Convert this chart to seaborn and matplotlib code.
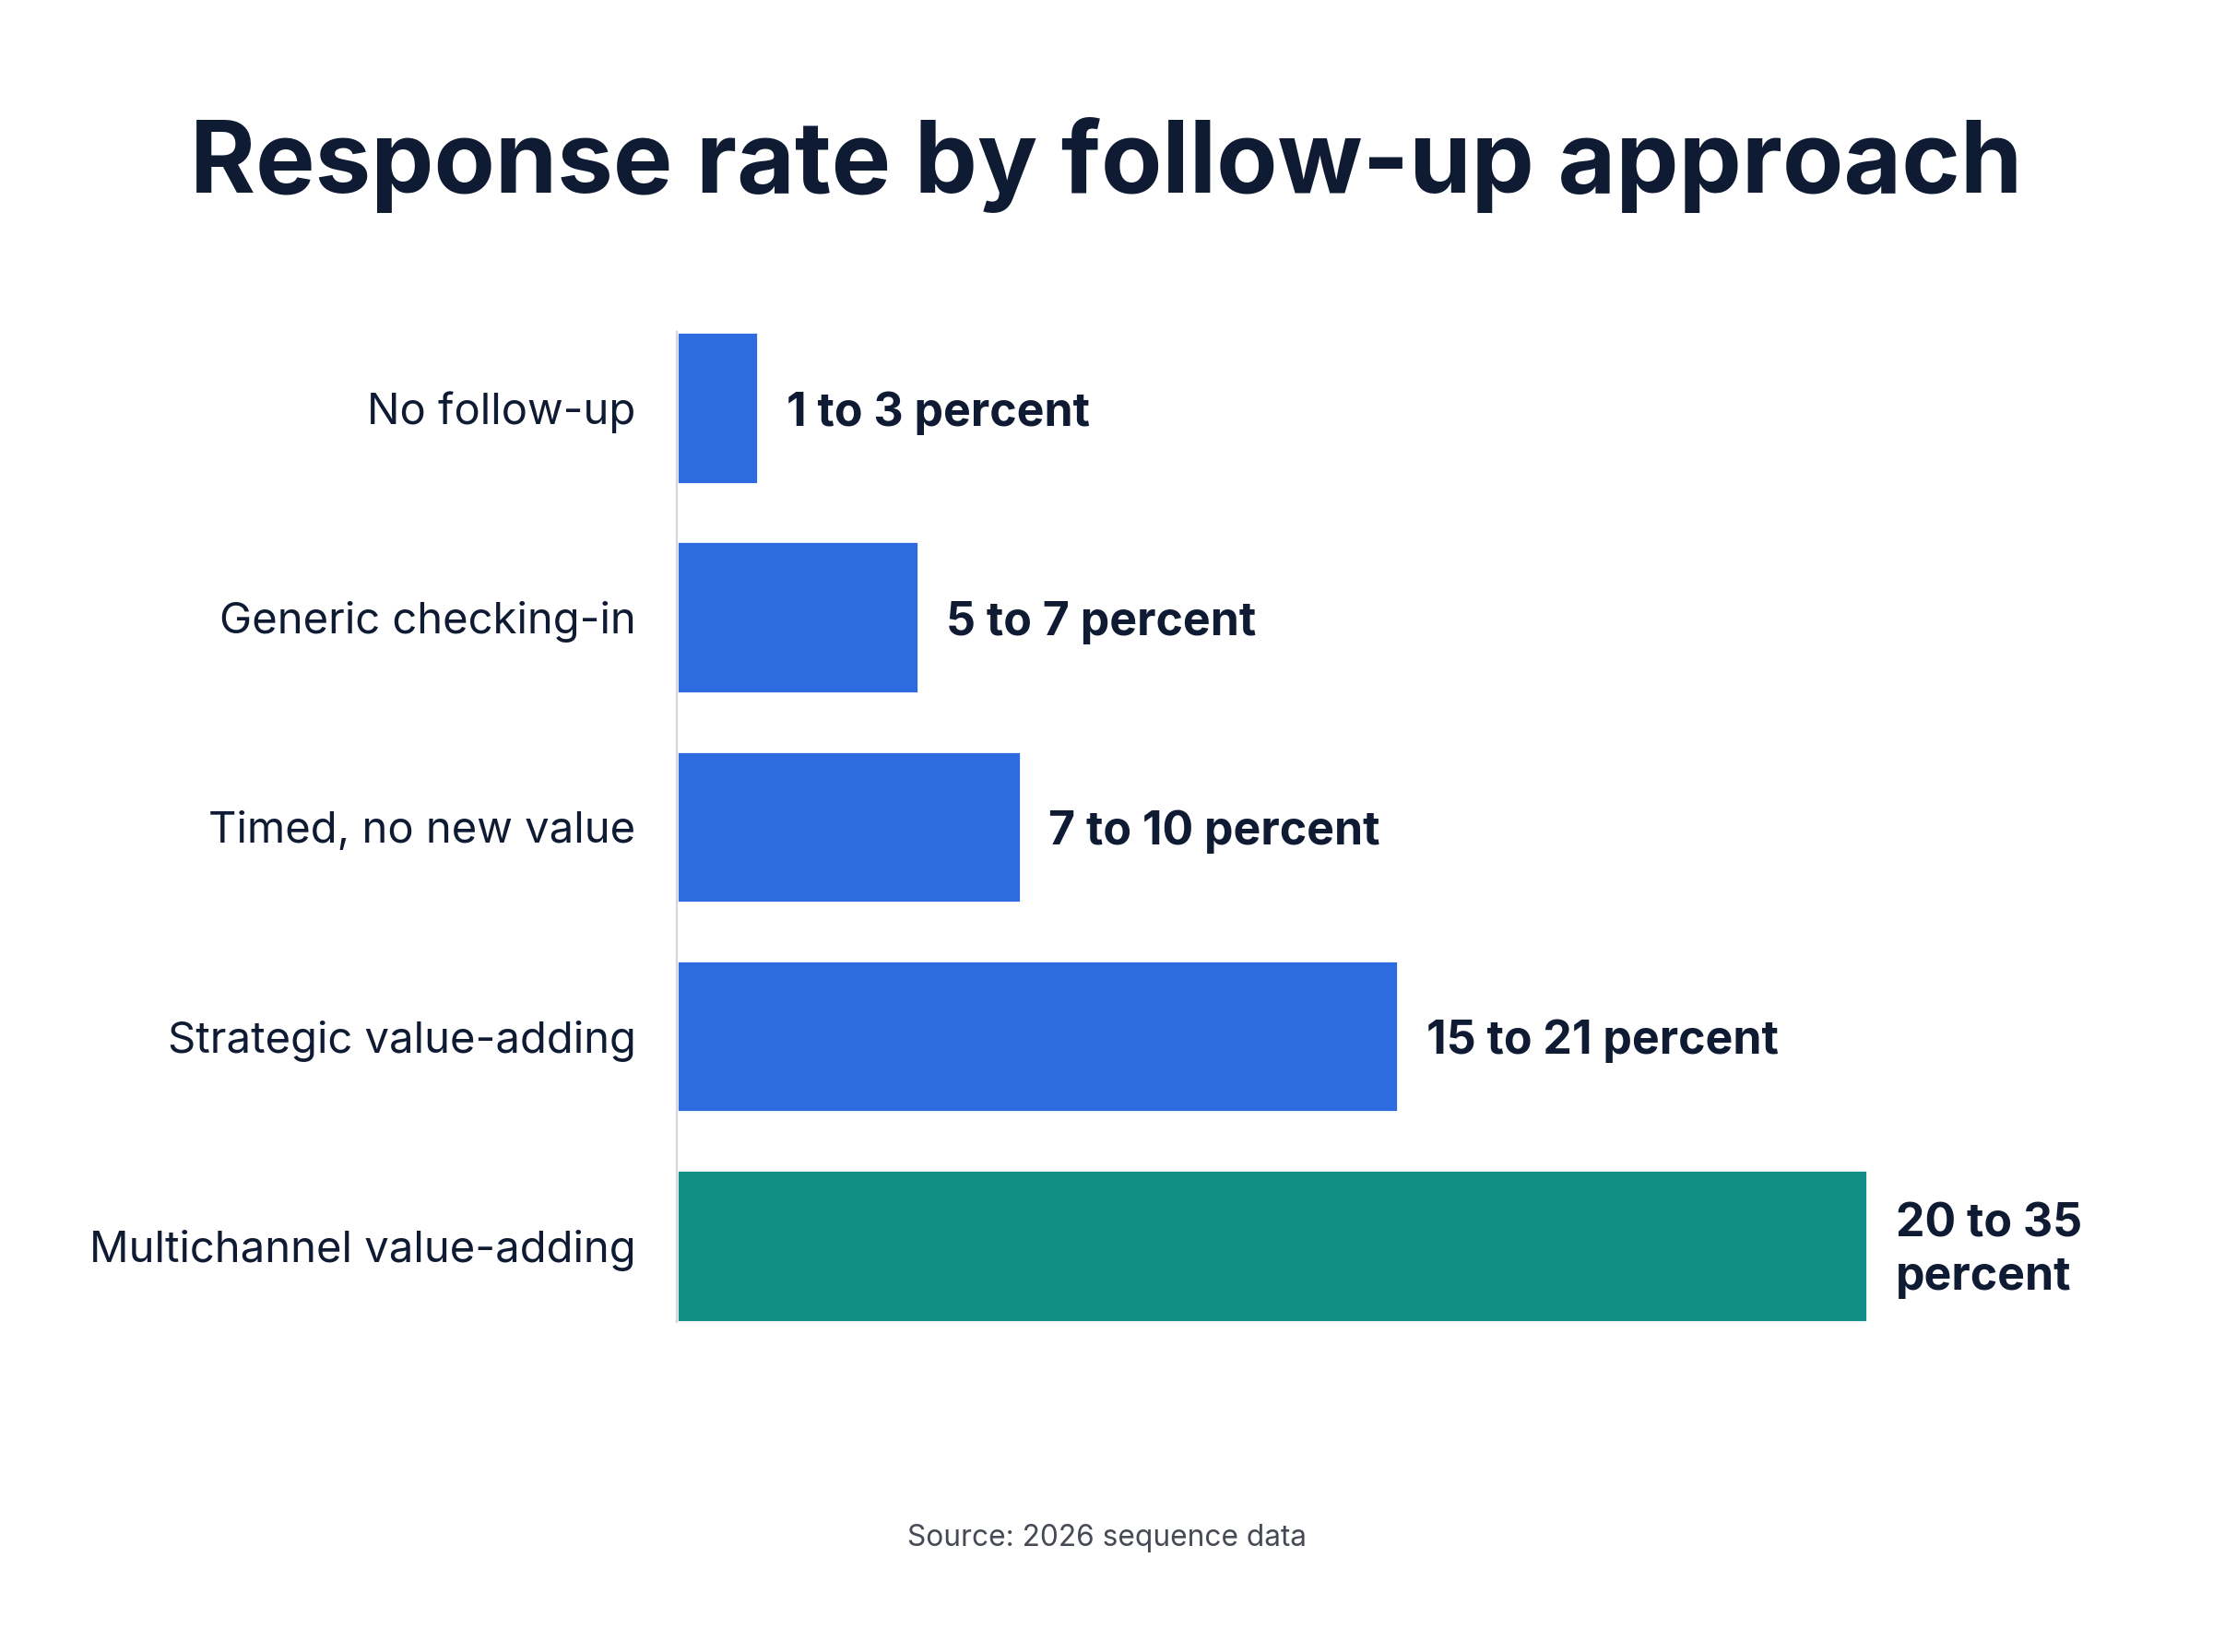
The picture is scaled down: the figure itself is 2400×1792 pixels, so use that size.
import matplotlib
matplotlib.use("Agg")
import matplotlib.pyplot as plt
import seaborn as sns

# data
categories = ["No follow-up", "Generic checking-in", "Timed, no new value",
              "Strategic value-adding", "Multichannel value-adding"]
values = [2.4, 7.1, 10.1, 21.2, 35.0]
value_labels = ["1 to 3 percent", "5 to 7 percent", "7 to 10 percent",
                "15 to 21 percent", "20 to 35\npercent"]
bar_colors = ["#2F6BE0", "#2F6BE0", "#2F6BE0", "#2F6BE0", "#128E87"]

sns.set_theme(style="white")
plt.rcParams['font.family'] = ['Inter', 'DejaVu Sans']

navy = "#0F1A33"

fig = plt.figure(figsize=(12, 8.96), dpi=200)
fig.patch.set_facecolor("white")
ax = fig.add_axes([0.3058, 0.2, 0.645, 0.599])

sns.barplot(x=values, y=categories, hue=categories, palette=bar_colors,
            legend=False, width=0.725, saturation=1, ax=ax)

ax.set_xlim(0, 41.95)
ax.set_ylim(4.3625, -0.3625)
ax.set_xlabel("")
ax.set_ylabel("")
ax.set_xticks([])
ax.tick_params(axis="y", length=0, pad=16, labelsize=17, labelcolor=navy)

for s in ["top", "right", "bottom"]:
    ax.spines[s].set_visible(False)
ax.spines["left"].set_color("#D3D7DE")
ax.spines["left"].set_linewidth(0.8)

for i, (v, lab) in enumerate(zip(values, value_labels)):
    ax.annotate(lab, xy=(v, i), xytext=(11, -2), textcoords="offset points",
                ha="left", va="center", fontsize=18, fontweight="bold",
                color=navy, linespacing=1.3)

fig.text(0.5, 0.9, "Response rate by follow-up approach", ha="center",
         va="center", fontsize=39, fontweight="bold", color=navy)
fig.text(0.5, 0.069, "Source: 2026 sequence data", ha="center", va="center",
         fontsize=11.4, color="#454A55")

fig.savefig("out.png", dpi=200, facecolor="white")
